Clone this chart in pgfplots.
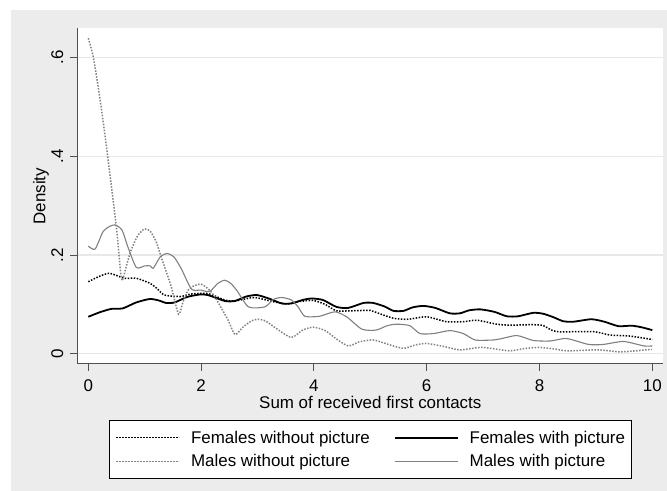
\documentclass[border=0pt]{standalone}
\usepackage{pgfplots}
\pgfplotsset{compat=1.18}
\usepackage{fontspec}
\setmainfont{Liberation Sans}
\definecolor{bggray}{RGB}{236,236,236}
\definecolor{gridgray}{RGB}{232,232,232}
\definecolor{axgray}{RGB}{80,80,80}
\definecolor{mgray}{RGB}{128,128,128}
\definecolor{mgraydot}{RGB}{130,130,130}
\newcommand{\fs}{\fontsize{17}{17}\selectfont}
\begin{document}
\begin{tikzpicture}
\path (0bp,0bp) rectangle (667bp,491bp);
\fill[bggray] (11bp,0bp) rectangle (667bp,481bp);
\begin{axis}[
  at={(77.3bp,127bp)}, anchor=south west,
  scale only axis, width=586bp, height=335.7bp,
  xmin=-0.195, xmax=10.195, ymin=-0.0206, ymax=0.659,
  axis background/.style={fill=white},
  axis x line*=bottom, axis y line*=left,
  axis line style={axgray, line width=1bp, -},
  tick style={axgray, line width=1bp},
  tick align=outside, major tick length=7bp,
  xtick={0,2,4,6,8,10}, xticklabels={0,2,4,6,8,10},
  ytick={0,0.2,0.4,0.6}, yticklabels={0,.2,.4,.6},
  minor tick num=0,
  ymajorgrids, major grid style={gridgray, line width=1.3bp},
  every tick label/.append style={font=\fs, text=black},
  xticklabel style={anchor=north, inner xsep=0pt, inner ysep=8bp, text height=12.2bp, text depth=0pt},
  yticklabel style={rotate=90, anchor=south, inner xsep=0pt, inner ysep=7bp, text depth=0pt},
  label style={font=\fs},
  xlabel={Sum of received first contacts},
  ylabel={Density},
  xlabel style={at={(axis description cs:0.5,-0.1320)}, anchor=base, inner sep=0pt},
  ylabel style={at={(axis description cs:-0.0544,0.5)}, anchor=base, inner sep=0pt},
  legend columns=2,
  legend cell align=left,
  legend style={at={(0.5,-0.168)}, anchor=north, draw=black, line width=0.8bp,
    fill=white, font=\fs, inner xsep=6bp, inner ysep=10bp, row sep=10bp,
    column sep=11bp,
    /tikz/every even column/.append style={column sep=24bp},
    nodes={inner sep=0pt}},
  legend image code/.code={\draw[#1] (0bp,0bp) -- (63bp,0bp);},
]
% Females without picture
\addplot[black, line width=1.5bp, dash pattern=on 1.5bp off 1.5bp, smooth, tension=0.4] coordinates {
(0,0.146) (0.2,0.157) (0.38,0.163) (0.64,0.153) (0.85,0.153) (1.09,0.143) (1.22,0.132) (1.35,0.119) (1.63,0.116) (1.82,0.121) (2.12,0.122) (2.42,0.109) (2.6,0.107) (2.78,0.111) (2.96,0.114) (3.26,0.106) (3.52,0.101) (3.75,0.106) (3.99,0.108) (4.2,0.1) (4.40,0.087) (4.63,0.087) (5.0,0.088) (5.1,0.084) (5.41,0.072) (5.67,0.070) (6.0,0.075) (6.35,0.065) (6.65,0.065) (6.89,0.068) (7.24,0.060) (7.48,0.058) (7.89,0.059) (8.07,0.057) (8.30,0.045) (8.95,0.045) (9.25,0.038) (9.6,0.036) (10,0.029)
};
\addlegendentry{Females without picture}
% Females with picture
\addplot[black, line width=1.8bp, smooth, tension=0.4] coordinates {
(0,0.075) (0.2,0.084) (0.41,0.091) (0.61,0.092) (0.85,0.104) (1.09,0.111) (1.25,0.108) (1.38,0.103) (1.53,0.104) (1.75,0.115) (1.97,0.120) (2.12,0.119) (2.42,0.107) (2.6,0.107) (2.8,0.116) (2.99,0.119) (3.2,0.112) (3.43,0.102) (3.6,0.102) (3.8,0.109) (3.96,0.112) (4.16,0.109) (4.40,0.095) (4.61,0.093) (4.88,0.103) (5.05,0.103) (5.25,0.096) (5.41,0.087) (5.59,0.087) (5.75,0.094) (5.94,0.097) (6.15,0.093) (6.41,0.082) (6.59,0.082) (6.75,0.088) (6.95,0.090) (7.2,0.085) (7.42,0.076) (7.62,0.076) (7.89,0.083) (8.07,0.081) (8.25,0.074) (8.42,0.066) (8.6,0.065) (8.92,0.070) (9.15,0.065) (9.40,0.056) (9.63,0.057) (9.8,0.054) (10,0.048)
};
\addlegendentry{Females with picture}
% Males without picture
\addplot[mgraydot, line width=1.5bp, dash pattern=on 1.5bp off 1.5bp, smooth, tension=0.4] coordinates {
(0,0.639) (0.09,0.60) (0.21,0.514) (0.31,0.43) (0.44,0.311) (0.51,0.244) (0.56,0.18) (0.60,0.148) (0.68,0.18) (0.76,0.21) (0.88,0.24) (1.0,0.253) (1.1,0.248) (1.2,0.228) (1.29,0.197) (1.47,0.136) (1.6,0.08) (1.68,0.105) (1.77,0.129) (1.88,0.138) (2.0,0.141) (2.12,0.132) (2.24,0.116) (2.48,0.068) (2.6,0.039) (2.75,0.055) (2.9,0.067) (3.01,0.07) (3.15,0.066) (3.35,0.05) (3.6,0.033) (3.8,0.048) (3.99,0.054) (4.2,0.047) (4.4,0.03) (4.61,0.016) (4.8,0.024) (5.0,0.028) (5.1,0.027) (5.35,0.018) (5.59,0.011) (5.8,0.018) (6.0,0.021) (6.3,0.015) (6.59,0.008) (6.95,0.013) (7.2,0.01) (7.48,0.006) (7.75,0.011) (8.0,0.013) (8.25,0.01) (8.48,0.006) (8.75,0.007) (9.05,0.008) (9.43,0.004) (9.7,0.006) (9.99,0.009)
};
\addlegendentry{Males without picture}
% Males with picture
\addplot[mgray, line width=1.1bp, smooth, tension=0.4] coordinates {
(0,0.218) (0.12,0.212) (0.26,0.247) (0.38,0.258) (0.48,0.261) (0.6,0.25) (0.70,0.217) (0.85,0.175) (1.0,0.178) (1.1,0.178) (1.15,0.173) (1.28,0.197) (1.4,0.203) (1.52,0.196) (1.65,0.172) (1.83,0.131) (2.0,0.129) (2.15,0.126) (2.3,0.143) (2.42,0.149) (2.52,0.143) (2.63,0.129) (2.84,0.095) (3.13,0.095) (3.28,0.11) (3.43,0.114) (3.6,0.109) (3.72,0.095) (3.84,0.076) (4.1,0.076) (4.37,0.085) (4.58,0.075) (4.85,0.050) (5.1,0.048) (5.3,0.057) (5.47,0.060) (5.7,0.057) (5.88,0.041) (6.12,0.041) (6.41,0.047) (6.65,0.041) (6.86,0.028) (7.18,0.028) (7.3,0.030) (7.6,0.037) (7.89,0.027) (8.19,0.026) (8.48,0.031) (8.87,0.019) (9.13,0.019) (9.49,0.025) (9.85,0.016) (10,0.016)
};
\addlegendentry{Males with picture}
\end{axis}
\end{tikzpicture}
\end{document}
